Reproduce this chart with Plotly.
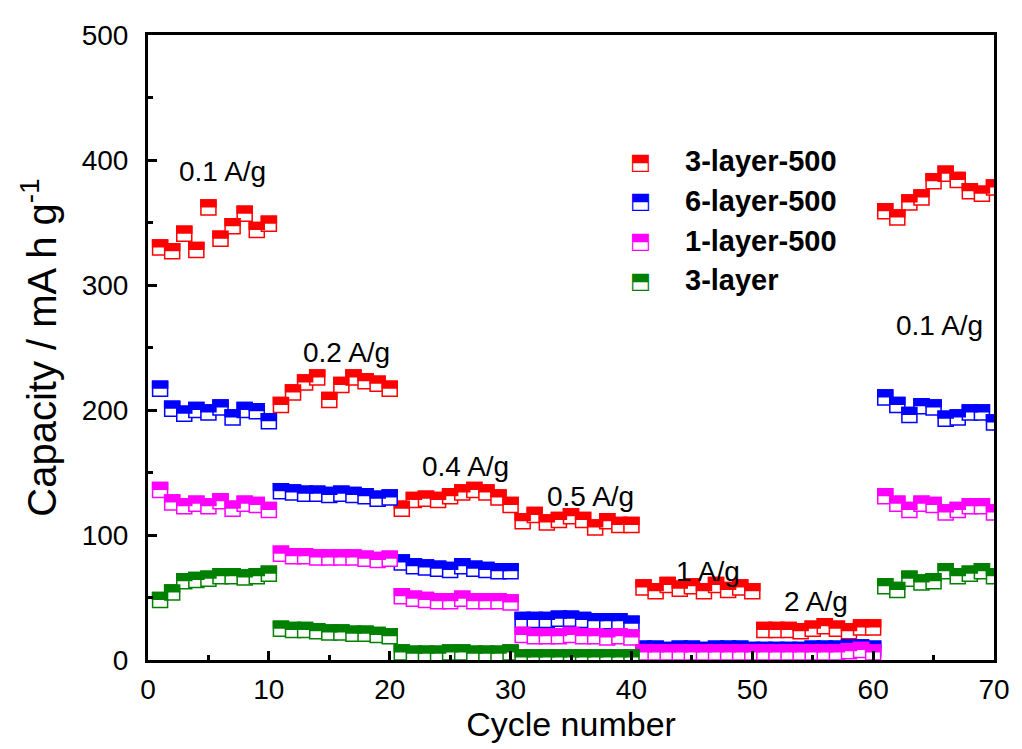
import plotly.graph_objects as go

cycles = list(range(1, 71))
series_names = ["3-layer-500", "6-layer-500", "1-layer-500", "3-layer"]
series_colors = ["#FF0000", "#0000FF", "#FF00FF", "#008000"]

cap_3layer_500 = [330, 327, 341, 328, 362, 337, 347, 357, 344, 349,
                  204, 214, 222, 226, 208, 220, 226, 223, 221, 217,
                  121, 128, 129, 128, 131, 134, 136, 134, 130, 124,
                  111, 116, 110, 112, 115, 112, 106, 111, 108, 108,
                  58, 55, 60, 57, 59, 55, 60, 56, 58, 55,
                  24, 24, 24, 23, 25, 27, 25, 23, 26, 26,
                  359, 354, 366, 370, 383, 389, 384, 375, 373, 378]
cap_6layer_500 = [217, 201, 197, 200, 198, 202, 194, 200, 199, 191,
                  135, 134, 133, 133, 132, 133, 132, 131, 129, 130,
                  78, 75, 74, 73, 72, 75, 73, 72, 71, 71,
                  32, 32, 32, 33, 33, 32, 31, 31, 31, 29,
                  9, 9, 8, 9, 9, 8, 9, 9, 9, 8,
                  8, 8, 8, 8, 9, 9, 9, 10, 10, 9,
                  210, 204, 196, 203, 202, 193, 194, 198, 198, 190]
cap_1layer_500 = [136, 126, 123, 125, 123, 127, 121, 125, 124, 120,
                  85, 83, 83, 82, 82, 82, 82, 81, 80, 81,
                  51, 49, 48, 47, 47, 49, 47, 47, 47, 46,
                  20, 19, 19, 19, 20, 19, 19, 18, 19, 18,
                  6, 6, 6, 6, 6, 6, 6, 6, 6, 6,
                  6, 6, 6, 6, 6, 6, 6, 7, 8, 6,
                  131, 125, 120, 125, 124, 118, 120, 123, 123, 118]
cap_3layer = [48, 54, 63, 64, 65, 67, 67, 66, 67, 69,
              25, 24, 24, 23, 22, 22, 21, 21, 20, 19,
              6, 5, 5, 5, 6, 6, 5, 5, 5, 6,
              2, 2, 2, 2, 2, 2, 2, 2, 2, 2,
              None, None, None, None, None, None, None, None, None, None,
              None, None, None, None, None, None, None, None, None, None,
              59, 56, 65, 62, 63, 71, 67, 69, 71, 67]

rate_labels = ["0.1 A/g", "0.2 A/g", "0.4 A/g", "0.5 A/g", "1 A/g", "2 A/g", "0.1 A/g"]
rate_label_x = [6.2, 16.4, 26.3, 36.6, 46.3, 55.3, 65.5]
rate_label_y = [391, 246, 155, 131, 71, 47, 268]

all_caps = [cap_3layer_500, cap_6layer_500, cap_1layer_500, cap_3layer]

SQ = 15          # open square size (px)
EDGE = 1.5       # border width
OUT = SQ + EDGE  # outer size
HALF = OUT / 2

fig = go.Figure()
for name, color, caps in zip(series_names, series_colors, all_caps):
    xs = [c for c, v in zip(cycles, caps) if v is not None]
    ys = [v for v in caps if v is not None]
    # whole marker: open square with white inside
    fig.add_trace(go.Scatter(
        x=xs, y=ys, mode="markers", name=name, showlegend=False,
        marker=dict(symbol="square", size=SQ, color="white",
                    line=dict(color=color, width=EDGE)),
    ))
    # filled upper half of the same marker
    fig.add_trace(go.Scatter(
        x=xs, y=ys, mode="markers", name=name, showlegend=False, hoverinfo="skip",
        marker=dict(symbol="line-ew", size=OUT / 1.4, color=color, angle=180, standoff=HALF / 2,
                    line=dict(color=color, width=HALF)),
    ))

font_family = "Arial, 'Liberation Sans', Helvetica, sans-serif"

for txt, x, y in zip(rate_labels, rate_label_x, rate_label_y):
    fig.add_annotation(x=x, y=y, text=txt, showarrow=False,
                       font=dict(family=font_family, size=28, color="black"))

# legend built from text
leg_y0 = 0.798
leg_dy = 0.0635
for i, (name, color) in enumerate(zip(series_names, series_colors)):
    yy = leg_y0 - i * leg_dy
    fig.add_annotation(xref="paper", yref="paper", x=0.582, y=yy, xanchor="center", yanchor="middle",
                       text="⬒", showarrow=False,
                       font=dict(family="DejaVu Sans", size=22, color=color))
    fig.add_annotation(xref="paper", yref="paper", x=0.632, y=yy, xanchor="left", yanchor="middle",
                       text="<b>%s</b>" % name, showarrow=False,
                       font=dict(family=font_family, size=29, color="black"))

axis_common = dict(showline=True, linecolor="black", linewidth=3, mirror=True,
                   ticks="inside", ticklen=9, tickwidth=3, tickcolor="black",
                   showgrid=False, zeroline=False,
                   tickfont=dict(family=font_family, size=28, color="black"))

fig.update_xaxes(range=[0, 70], dtick=10, tick0=0, ticklabelstandoff=2,
                 minor=dict(ticks="inside", ticklen=5, tickwidth=3, tickcolor="black", dtick=5, tick0=0),
                 title=dict(text="Cycle number", font=dict(family=font_family, size=34, color="black"), standoff=0),
                 **axis_common)
fig.update_yaxes(range=[0, 500], dtick=100, tick0=0, ticklabelstandoff=11,
                 minor=dict(ticks="inside", ticklen=5, tickwidth=3, tickcolor="black", dtick=50, tick0=0),
                 title=dict(text="Capacity / mA h g<sup>-1</sup>", font=dict(family=font_family, size=40, color="black"), standoff=13),
                 **axis_common)

# page body adds an 8px offset, so the figure is 8px smaller than the window
fig.update_layout(width=1014, height=741, plot_bgcolor="white", paper_bgcolor="white",
                  margin=dict(l=140, r=20, t=22, b=89), showlegend=False)

fig.write_html("out.html")
